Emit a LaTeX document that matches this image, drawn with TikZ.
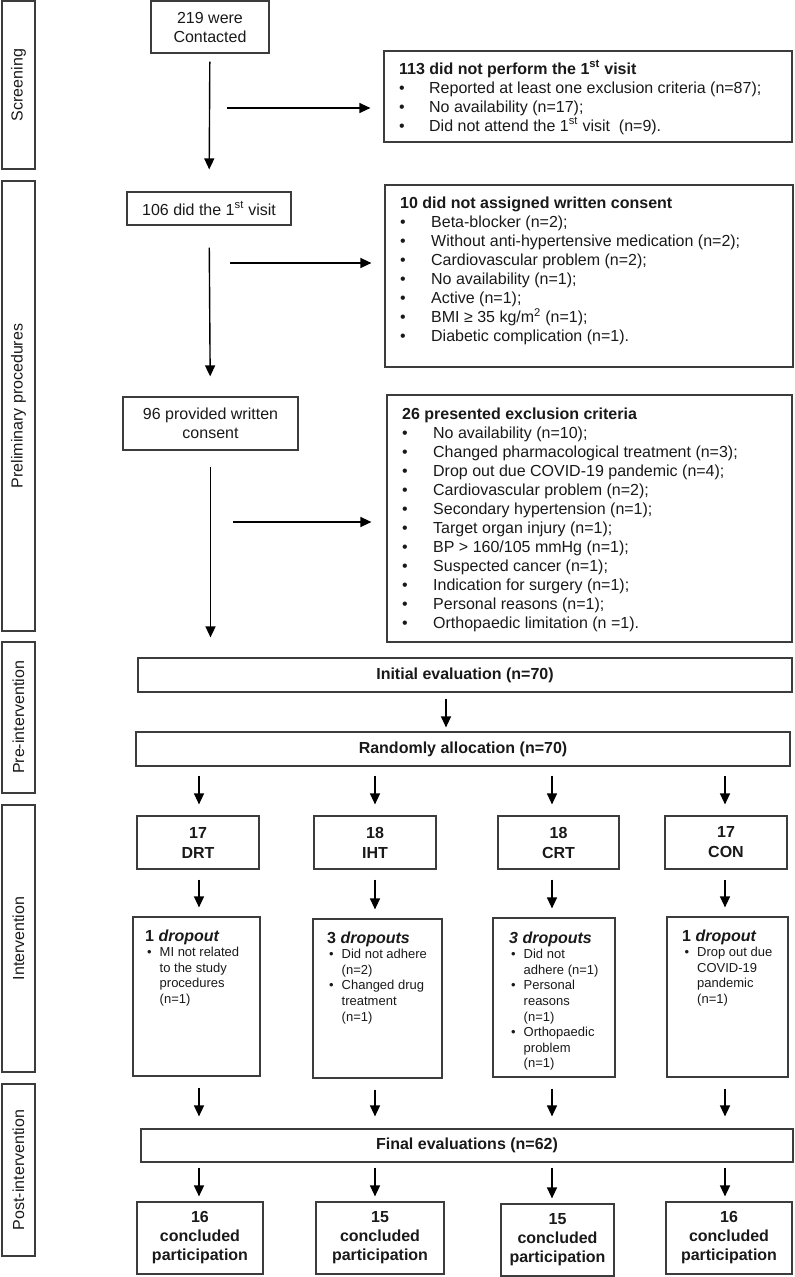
\documentclass[tikz,border=0pt]{standalone}
\usepackage{fontspec}
\setmainfont{Liberation Sans}
\usetikzlibrary{arrows.meta}
\definecolor{bord}{RGB}{60,60,60}
\definecolor{ink}{RGB}{25,25,25}
\newcommand{\fs}{\fontsize{16}{19}\selectfont}
\newcommand{\fsm}{\fontsize{13}{15.6}\selectfont}
\begin{document}
\begin{tikzpicture}[x=1pt,y=-1pt,
  every node/.style={text=ink},
  box/.style={draw=bord,line width=1.2pt,rectangle,inner sep=0pt},
  side/.style={box,rotate=90,minimum height=33pt,font=\fs},
  mainbox/.style={box,align=center,font=\fs},
  grpbox/.style={box,align=center,font=\fontsize{16}{20}\selectfont\bfseries},
  txt/.style={anchor=base west,inner sep=0pt,font=\fs},
  stxt/.style={anchor=base west,inner sep=0pt,font=\fsm},
  arr/.style={draw=black,line width=1.4pt,-{Triangle[width=10pt,length=11pt]}}]
\useasboundingbox (0,0) rectangle (795,1277);

% side labels
\node[side,minimum width=168pt] (scr) at (18.5,85) {Screening};
\node[side,minimum width=450pt] (prel) at (18.5,406) {Preliminary procedures};
\node[side,minimum width=151pt] (prei) at (18.5,717.5) {Pre-intervention};
\node[side,minimum width=267pt] (intv) at (18.5,938.5) {Intervention};
\node[side,minimum width=172pt] (post) at (18.5,1170) {Post-intervention};

% left flow
\node[mainbox,minimum width=118pt,minimum height=52pt] (c219) at (210,27) {219 were\\Contacted};
\node[mainbox,minimum width=164pt,minimum height=33pt] (v106) at (209,208.5) {106 did the 1\textsuperscript{st} visit};
\node[mainbox,minimum width=175pt,minimum height=53pt] (c96) at (210.5,423.5) {96 provided written\\consent};

% exclusion boxes
\node[box,minimum width=408pt,minimum height=91pt] (ex113) at (588,96.5) {};
\node[box,minimum width=408pt,minimum height=182pt] (ex10) at (589,276) {};
\node[box,minimum width=405pt,minimum height=247pt] (ex26) at (589.5,518.5) {};

\node[txt] (t113) at (399,74) {\begin{tabular}[t]{@{}p{30pt}@{}l@{}}
\multicolumn{2}{@{}l@{}}{\bfseries 113 did not perform the 1\textsuperscript{st} visit}\\
\textbullet & Reported at least one exclusion criteria (n=87);\\
\textbullet & No availability (n=17);\\
\textbullet & Did not attend the 1\textsuperscript{st} visit\ \ (n=9).
\end{tabular}};

\node[txt] (t10) at (400,208) {\begin{tabular}[t]{@{}p{31pt}@{}l@{}}
\multicolumn{2}{@{}l@{}}{\bfseries 10 did not assigned written consent}\\
\textbullet & Beta-blocker (n=2);\\
\textbullet & Without anti-hypertensive medication (n=2);\\
\textbullet & Cardiovascular problem (n=2);\\
\textbullet & No availability (n=1);\\
\textbullet & Active (n=1);\\
\textbullet & BMI ≥ 35 kg/m\textsuperscript{2} (n=1);\\
\textbullet & Diabetic complication (n=1).
\end{tabular}};

\node[txt] (t26) at (402,419) {\begin{tabular}[t]{@{}p{31pt}@{}l@{}}
\multicolumn{2}{@{}l@{}}{\bfseries 26 presented exclusion criteria}\\
\textbullet & No availability (n=10);\\
\textbullet & Changed pharmacological treatment (n=3);\\
\textbullet & Drop out due COVID-19 pandemic (n=4);\\
\textbullet & Cardiovascular problem (n=2);\\
\textbullet & Secondary hypertension (n=1);\\
\textbullet & Target organ injury (n=1);\\
\textbullet & BP > 160/105 mmHg (n=1);\\
\textbullet & Suspected cancer (n=1);\\
\textbullet & Indication for surgery (n=1);\\
\textbullet & Personal reasons (n=1);\\
\textbullet & Orthopaedic limitation (n =1).
\end{tabular}};

% pre-intervention
\node[mainbox,font=\fs\bfseries,minimum width=654pt,minimum height=34pt] (init) at (465,675) {Initial evaluation (n=70)};
\node[mainbox,font=\fs\bfseries,minimum width=654pt,minimum height=34pt] (rand) at (463,749) {Randomly allocation (n=70)};

% groups
\node[grpbox,minimum width=122pt,minimum height=53pt] (DRT) at (198,842.5) {17\\DRT};
\node[grpbox,minimum width=122pt,minimum height=53pt] (IHT) at (375,842.5) {18\\IHT};
\node[grpbox,minimum width=121pt,minimum height=53pt] (CRT) at (558.5,842.5) {18\\CRT};
\node[grpbox,minimum width=122pt,minimum height=53pt] (CON) at (726,842.5) {17\\CON};

% dropout boxes
\node[box,minimum width=127pt,minimum height=159pt] (dDRT) at (196.5,996.5) {};
\node[box,minimum width=129pt,minimum height=159pt] (dIHT) at (377.5,998.5) {};
\node[box,minimum width=122pt,minimum height=159pt] (dCRT) at (554,997.5) {};
\node[box,minimum width=121pt,minimum height=160pt] (dCON) at (727.5,997) {};

\node[stxt] (tDRT) at (145,941) {\begin{tabular}[t]{@{\hspace{2pt}}p{12.5pt}@{}l@{}}
\multicolumn{2}{@{}l@{}}{\fs\bfseries 1 \textit{dropout}}\\
\textbullet & MI not related\\
 & to the study\\
 & procedures\\
 & (n=1)
\end{tabular}};
\node[stxt] (tIHT) at (327,943) {\begin{tabular}[t]{@{\hspace{2pt}}p{12.5pt}@{}l@{}}
\multicolumn{2}{@{}l@{}}{\fs\bfseries 3 \textit{dropouts}}\\
\textbullet & Did not adhere\\
 & (n=2)\\
\textbullet & Changed drug\\
 & treatment\\
 & (n=1)
\end{tabular}};
\node[stxt] (tCRT) at (509,943) {\begin{tabular}[t]{@{\hspace{2pt}}p{12.5pt}@{}l@{}}
\multicolumn{2}{@{}l@{}}{\fs\bfseries\itshape 3 dropouts}\\
\textbullet & Did not\\
 & adhere (n=1)\\
\textbullet & Personal\\
 & reasons\\
 & (n=1)\\
\textbullet & Orthopaedic\\
 & problem\\
 & (n=1)
\end{tabular}};
\node[stxt] (tCON) at (682,941) {\begin{tabular}[t]{@{\hspace{2.5pt}}p{12.5pt}@{}l@{}}
\multicolumn{2}{@{}l@{}}{\fs\bfseries 1 \textit{dropout}}\\
\textbullet & Drop out due\\
 & COVID-19\\
 & pandemic\\
 & (n=1)
\end{tabular}};

% post-intervention
\node[mainbox,font=\fs\bfseries,minimum width=652pt,minimum height=33pt] (final) at (467,1145.5) {Final evaluations (n=62)};
\node[mainbox,font=\fs\bfseries,minimum width=126pt,minimum height=72pt] (fA) at (200,1238) {16\\concluded\\participation};
\node[mainbox,font=\fs\bfseries,minimum width=128pt,minimum height=72pt] (fB) at (380,1238) {15\\concluded\\participation};
\node[mainbox,font=\fs\bfseries,minimum width=113pt,minimum height=72pt] (fC) at (557.5,1240) {15\\concluded\\participation};
\node[mainbox,font=\fs\bfseries,minimum width=126pt,minimum height=72pt] (fD) at (729,1238) {16\\concluded\\participation};

% column coordinates
\coordinate (col1) at (199,0);
\coordinate (col2) at (375,0);
\coordinate (col3) at (552,0);
\coordinate (col4) at (725,0);
\coordinate (cm) at (446,0);
\coordinate (h1) at (227,108);
\coordinate (h2) at (230,263);
\coordinate (h3) at (233,522);

% connectors
\draw[arr,shorten <=8pt,shorten >=22pt] (c219) -- (v106);
\draw[arr,shorten <=22pt,shorten >=20pt] (v106) -- (c96);
\draw[arr,shorten <=16pt,shorten >=20pt] (c96.south) -- (c96.south |- init.north);
\draw[arr,shorten >=13pt] (h1) -- (h1 -| ex113.west);
\draw[arr,shorten >=13pt] (h2) -- (h2 -| ex10.west);
\draw[arr,shorten >=15pt] (h3) -- (h3 -| ex26.west);
\draw[arr,shorten <=6pt,shorten >=4pt] (init.south -| cm) -- (rand.north -| cm);

\foreach \g/\d/\f [count=\i] in {DRT/dDRT/fA,IHT/dIHT/fB,CRT/dCRT/fC,CON/dCON/fD}{
  \draw[arr,shorten <=9pt,shorten >=11pt] (rand.south -| col\i) -- (\g.north -| col\i);
  \draw[arr,shorten <=10pt,shorten >=9pt] (\g.south -| col\i) -- (\d.north -| col\i);
  \draw[arr,shorten <=11pt,shorten >=12pt] (\d.south -| col\i) -- (final.north -| col\i);
  \draw[arr,shorten <=5pt,shorten >=5pt] (final.south -| col\i) -- (\f.north -| col\i);
}
\end{tikzpicture}
\end{document}
